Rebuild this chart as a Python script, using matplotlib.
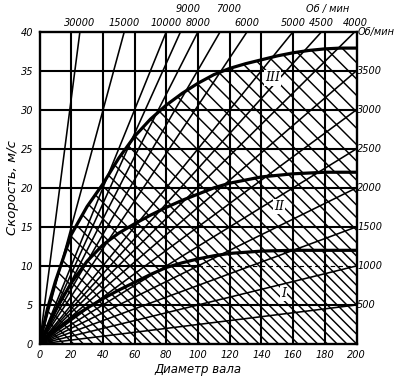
import matplotlib
matplotlib.use('Agg')
import matplotlib.pyplot as plt
import numpy as np
from matplotlib.patches import Polygon

# ---------------- data ----------------
# rpm lines ending on the top edge (v = 40): rpm and diameter at the top edge
top_rpm = [30000, 15000, 10000, 9000, 8000, 7000, 6000, 5000, 4500, 4000]
top_end_d = [25.5, 53.5, 80, 89, 100, 114, 131, 160, 178, 199]
top_label_row = [0, 0, 0, 1, 0, 1, 0, 0, 0, 0]
# rpm lines ending on the right edge (d = 200): rpm and speed at the right edge
right_rpm = [3500, 3000, 2500, 2000, 1500, 1000, 500]
right_end_v = [35, 30, 25, 20, 15, 10, 5]

# boundary curves of zones I, II, III
d_III = [0, 5, 10, 20, 30, 40, 50, 60, 70, 80, 90, 100, 110, 120, 130, 140, 150, 160, 170, 180, 190, 200]
v_III = [0, 4.5, 8, 14, 17.6, 20.5, 23.8, 26.6, 28.8, 30.6, 32.1, 33.4, 34.5, 35.3, 35.9, 36.4, 36.9, 37.3, 37.6, 37.8, 37.9, 37.9]
d_II = [0, 10, 20, 30, 40, 50, 60, 70, 80, 90, 100, 110, 120, 130, 140, 150, 160, 170, 180, 190, 200]
v_II = [0, 4.3, 7.8, 10.6, 12.7, 14.2, 15.4, 16.5, 17.5, 18.4, 19.2, 20.0, 20.6, 21.0, 21.4, 21.6, 21.8, 21.9, 22.0, 22.0, 22.0]
d_I = [0, 10, 20, 30, 40, 50, 60, 70, 80, 90, 100, 110, 120, 140, 160, 180, 200]
v_I = [0, 1.8, 3.3, 4.6, 5.8, 6.9, 7.9, 8.9, 9.8, 10.4, 10.9, 11.3, 11.6, 11.9, 12.0, 12.0, 12.0]

x_ticks = [0, 20, 40, 60, 80, 100, 120, 140, 160, 180, 200]
y_ticks = [0, 5, 10, 15, 20, 25, 30, 35, 40]
zone_labels = ['I', 'II', 'III']
zone_label_pos = [(154, 6.5), (151, 17.6), (147, 34.1)]
unit_label = 'Об/мин'

# ---------------- figure ----------------
W, H = 400, 378
fig = plt.figure(figsize=(W / 100, H / 100), dpi=100)
L, R, T, B = 39.5, 356.5, 31.7, 344.0
ax = fig.add_axes([L / W, 1 - B / H, (R - L) / W, (B - T) / H])
ax.set_xlim(0, 200)
ax.set_ylim(0, 40)

FONT = 'DejaVu Sans'
lab_kw = dict(fontfamily=FONT, fontstyle='italic', fontsize=7, color='k')
PT = 0.72  # points per pixel at 100 dpi

# grid
for x in x_ticks[1:-1]:
    ax.plot([x, x], [0, 40], color='k', lw=1.5, zorder=3, solid_capstyle='butt')
for y in y_ticks[1:-1]:
    if y == 10:
        ax.plot([0, 100], [y, y], color='k', lw=1.5, zorder=3, solid_capstyle='butt')
        ax.plot([100, 200], [y, y], color='k', lw=0.8, zorder=3, dashes=(4, 3))
    else:
        ax.plot([0, 200], [y, y], color='k', lw=1.5, zorder=3, solid_capstyle='butt')

# hatching (45 degrees in screen space, falling to the right)
k = ((R - L) / 200) / ((B - T) / 40)
dd = np.array([0, 200])


def hatch(px, py, step):
    poly = Polygon(np.column_stack([px, py]), closed=True, facecolor='none',
                   edgecolor='none', transform=ax.transData)
    ax.add_patch(poly)
    for c in np.arange(step * 0.5, 40 + 200 * k + step, step):
        ln, = ax.plot(dd, c - k * dd, color='k', lw=1.05, zorder=2)
        ln.set_clip_path(poly)


hatch(d_III + d_II[::-1], v_III + v_II[::-1], 2.1)
hatch(d_II + d_I[::-1], v_II + v_I[::-1], 1.6)
hatch(d_I + [200, 0], v_I + [0, 0], 1.25)

# rpm rays from origin
for d_end in top_end_d:
    ax.plot([0, d_end], [0, 40], color='k', lw=1.15, zorder=4)
for v_end in right_end_v:
    ax.plot([0, 200], [0, v_end], color='k', lw=1.15, zorder=4)

# zone boundary curves
for dc, vc in [(d_III, v_III), (d_II, v_II), (d_I, v_I)]:
    ax.plot(dc, vc, color='k', lw=2.3, zorder=5, solid_joinstyle='round', solid_capstyle='round')

# zone labels
for name, (x, y) in zip(zone_labels, zone_label_pos):
    ax.text(x, y, name, ha='center', va='center', fontsize=9, fontfamily='DejaVu Serif',
            fontstyle='italic', zorder=6,
            bbox=dict(boxstyle='square,pad=0.1', facecolor='white', edgecolor='none'))

# axes
for s in ax.spines.values():
    s.set_linewidth(1.7)
    s.set_zorder(7)
ax.set_xticks(x_ticks)
ax.set_yticks(y_ticks)
ax.set_xticklabels([str(t) for t in x_ticks], **lab_kw)
ax.set_yticklabels([str(t) for t in y_ticks], **lab_kw)
ax.tick_params(length=0, pad=4.5)
ax.set_xlabel('Диаметр вала', fontfamily=FONT, fontstyle='italic', fontsize=8.5, labelpad=2)
ax.set_ylabel('Скорость, м/с', fontfamily=FONT, fontstyle='italic', fontsize=9.5, labelpad=1)

# top rpm labels (two staggered rows above the frame)
row_dy_px = [9, 23]
row_dx_px = [0, 8]
for rpm, d_end, row in zip(top_rpm, top_end_d, top_label_row):
    ax.annotate(str(rpm), xy=(d_end, 40), xycoords='data',
                xytext=(row_dx_px[row] * PT, row_dy_px[row] * PT),
                textcoords='offset points', ha='center', va='center',
                annotation_clip=False, **lab_kw)
ax.annotate(unit_label.replace('/', ' / '), xy=(200, 40), xycoords='data',
            xytext=(-29 * PT, row_dy_px[1] * PT), textcoords='offset points',
            ha='center', va='center', annotation_clip=False, **lab_kw)

# right rpm labels
for rpm, v_end in zip(right_rpm, right_end_v):
    ax.text(200.5, v_end, str(rpm), ha='left', va='center', clip_on=False, **lab_kw)
ax.text(200.5, 40, unit_label, ha='left', va='center', clip_on=False, **lab_kw)

fig.savefig('out.png', dpi=100)
